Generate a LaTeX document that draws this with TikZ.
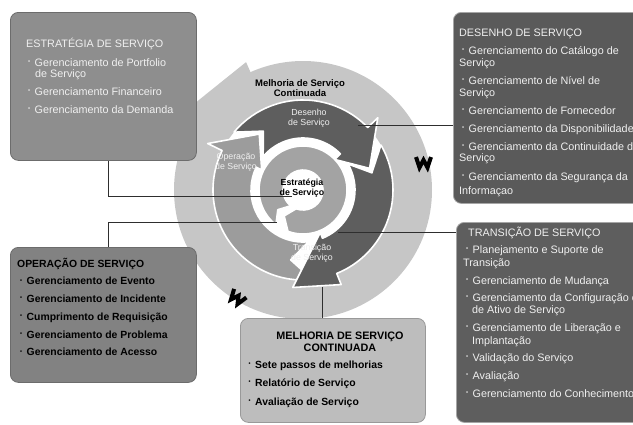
\documentclass[tikz,border=0pt]{standalone}
\usepackage{fontspec}
\setmainfont{Liberation Sans}
\usepackage{graphicx}
\usetikzlibrary{calc}

\definecolor{ringlight}{HTML}{C6C6C6}
\definecolor{ringmid}{HTML}{9C9C9C}
\definecolor{ringdark}{HTML}{5E5E5E}
\definecolor{coremid}{HTML}{A3A3A3}
\definecolor{stratfill}{HTML}{8E8E8E}
\definecolor{designfill}{HTML}{5A5A5A}
\definecolor{opfill}{HTML}{828282}
\definecolor{csifill}{HTML}{BDBDBD}
\definecolor{transfill}{HTML}{5E5E5E}
\definecolor{boxlight}{HTML}{F0F0F0}
\definecolor{linkgray}{HTML}{2E2E2E}

% radii of the middle band of the cycle
\newcommand{\ringin}{52}
\newcommand{\ringout}{90}
% curved arrow: style, tail angle, head-base angle, outer barb, inner barb,
% head length (deg), tail notch depth (deg), tip radius
\newcommand{\cyclearrow}[8]{%
  \path[#1] (#2:\ringout) arc[start angle=#2, end angle=#3, radius=\ringout]
    -- (#3:{\ringout+#4}) -- ({#3+#6}:#8) -- (#3:{\ringin-#5}) -- (#3:\ringin)
    arc[start angle=#3, end angle=#2, radius=\ringin]
    -- ({#2+#7}:{(\ringin+\ringout)/2}) -- cycle;}
\newcommand{\dotmark}{\makebox[6.5pt][l]{\raisebox{0.45ex}{\scalebox{0.55}{\textbullet}}}}

\begin{document}
\begin{tikzpicture}[x=1pt, y=-1pt,
  box/.style={rounded corners=8pt, anchor=north west, inner sep=0pt, line width=0.8pt},
  lighttext/.style={font=\fontsize{10.8}{12}\selectfont, text=boxlight, inner sep=0pt, anchor=base west},
  darktext/.style={font=\bfseries\fontsize{10.4}{12}\selectfont, text=black, inner sep=0pt, anchor=base west},
  ringlabel/.style={font=\fontsize{8.8}{10}\selectfont, text=boxlight, align=center, inner sep=0pt},
  ringbold/.style={font=\bfseries\fontsize{8.8}{10}\selectfont, text=black, align=center, inner sep=0pt},
  link/.style={draw=linkgray, line width=0.9pt},
  gapline/.style={draw=white, line width=1.6pt, line join=round},
  wmark/.style={draw=black, line width=4pt, line join=miter, miter limit=3}
]
\useasboundingbox (0,0) rectangle (633,424);
\clip (0,0) rectangle (633,424);

% ---------- the lifecycle wheel ----------
\begin{scope}[shift={(303,190)}]
  % outer band: continual improvement
  \fill[ringlight, even odd rule] (0,0) circle[radius=129] (0,0) circle[radius=90];
  \fill[ringlight] (212:129) -- (220:138) -- (246:140) -- (246:112) -- cycle;
  % middle band: operation, design, transition
  \cyclearrow{fill=ringmid, gapline}{84}{206}{16}{6}{26}{16}{71}
  \cyclearrow{fill=ringdark, gapline}{220}{316}{14}{8}{26}{16}{70}
  \cyclearrow{fill=ringdark, gapline}{330}{428}{12}{6}{28}{16}{98}
  % core: strategy
  \begingroup
  \renewcommand{\ringin}{20}\renewcommand{\ringout}{44}
  \cyclearrow{fill=coremid, gapline}{128}{470}{0}{0}{16}{14}{32}
  \endgroup
\end{scope}

% arrow marks on the outer band
\draw[wmark] (416,157) -- (419.5,167.5) -- (423.5,160) -- (427.5,167.5) -- (431,157);
\draw[wmark, rotate around={-35:(237,297)}] (230,292) -- (233.5,302.5) -- (237.5,295) -- (241.5,302.5) -- (245,292);

% wheel labels
\node[ringbold, font=\bfseries\fontsize{9.5}{10.5}\selectfont] (wcsi) at (300,88) {Melhoria de Serviço\\Continuada};
\node[ringlabel] (wdes) at (309,118) {Desenho\\de Serviço};
\node[ringlabel] (wop) at (236,162) {Operação\\de Serviço};
\node[ringbold] (wstr) at (302,188) {Estratégia\\de Serviço};
\node[ringlabel] (wtr) at (312,253) {Transição\\de Serviço};

% ---------- the five stage boxes ----------
\node[box, fill=stratfill, draw=gray!85!black, minimum width=186pt, minimum height=148pt] (sbox) at (10,12) {};
\node[box, fill=designfill, draw=gray!70, minimum width=200pt, minimum height=191pt] (dbox) at (453,12) {};
\node[box, fill=opfill, draw=gray!85!black, minimum width=186pt, minimum height=135pt] (obox) at (10,247) {};
\node[box, fill=csifill, draw=gray!80, minimum width=185pt, minimum height=104pt] (mbox) at (240,318) {};
\node[box, fill=transfill, draw=gray!70, minimum width=200pt, minimum height=200pt] (tbox) at (456,222) {};

% service strategy
\foreach \xx/\yy/\tt [count=\i] in {
  26/47/ESTRATÉGIA DE SERVIÇO,
  28/66.5/\dotmark Gerenciamento de Portfolio,
  35/77.5/de Serviço,
  28/95/\dotmark Gerenciamento Financeiro,
  28/113/\dotmark Gerenciamento da Demanda}
  \node[lighttext] (st\i) at (\xx,\yy) {\tt};

% service design
\foreach \xx/\yy/\tt [count=\i] in {
  459/36/DESENHO DE SERVIÇO,
  462/54/\dotmark Gerenciamento do Catálogo de,
  459/66/Serviço,
  462/84.5/\dotmark Gerenciamento de Nível de,
  459/96.5/Serviço,
  462/114.5/\dotmark Gerenciamento de Fornecedor,
  462/132/\dotmark Gerenciamento da Disponibilidade,
  462/150/\dotmark Gerenciamento da Continuidade de,
  459/161.5/Serviço,
  462/180/\dotmark Gerenciamento da Segurança da,
  459/194/Informaçao}
  \node[lighttext] (dt\i) at (\xx,\yy) {\tt};

% service operation
\foreach \xx/\yy/\tt [count=\i] in {
  17/267/OPERAÇÃO DE SERVIÇO,
  20/284.5/\dotmark Gerenciamento de Evento,
  20/302/\dotmark Gerenciamento de Incidente,
  20/320/\dotmark Cumprimento de Requisição,
  20/338/\dotmark Gerenciamento de Problema,
  20/355.5/\dotmark Gerenciamento de Acesso}
  \node[darktext] (ot\i) at (\xx,\yy) {\tt};

% continual service improvement
\node[darktext, anchor=base, font=\bfseries\fontsize{10.8}{12}\selectfont] (mt1) at (340,339) {MELHORIA DE SERVIÇO};
\node[darktext, anchor=base, font=\bfseries\fontsize{10.8}{12}\selectfont] (mt2) at (340,351) {CONTINUADA};
\foreach \xx/\yy/\tt [count=\i from 3] in {
  248.5/368/\dotmark Sete passos de melhorias,
  248.5/386/\dotmark Relatório de Serviço,
  248.5/405/\dotmark Avaliação de Serviço}
  \node[darktext] (mt\i) at (\xx,\yy) {\tt};

% service transition
\foreach \xx/\yy/\tt [count=\i] in {
  468/236/TRANSIÇÃO DE SERVIÇO,
  466/253/\dotmark Planejamento e Suporte de,
  463/266/Transição,
  466/284/\dotmark Gerenciamento de Mudança,
  466/301/\dotmark Gerenciamento da Configuração e,
  472/313.5/de Ativo de Serviço,
  466/331/\dotmark Gerenciamento de Liberação e,
  472/344/Implantação,
  466/361/\dotmark Validação do Serviço,
  466/379/\dotmark Avaliação,
  466/397/\dotmark Gerenciamento do Conhecimento}
  \node[lighttext] (tt\i) at (\xx,\yy) {\tt};

% ---------- connectors from the boxes into the wheel ----------
\coordinate (cs) at (292,196);
\coordinate (co) at (277,222);
\coordinate (cd) at (358,125);
\coordinate (ct) at (338,232);
\coordinate (cm) at (322,287);
\draw[link] ([xshift=98pt]sbox.south west) |- (cs);
\draw[link] ([xshift=98pt]obox.north west) |- (co);
\draw[link] (dbox.west |- cd) -- (cd);
\draw[link] (tbox.west |- ct) -- (ct);
\draw[link] ([xshift=82pt]mbox.north west) -- (cm);
\end{tikzpicture}
\end{document}
